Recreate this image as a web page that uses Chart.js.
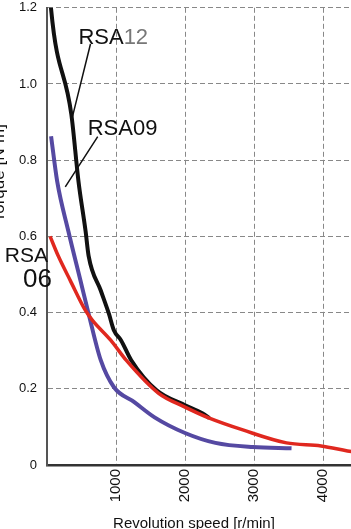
<!DOCTYPE html>
<html>
<head>
<meta charset="utf-8">
<script src="https://cdn.jsdelivr.net/npm/chart.js@4/dist/chart.umd.min.js"></script>
<style>
  html, body { margin: 0; padding: 0; background: #fff; overflow: hidden; }
  #wrap { position: relative; width: 392px; height: 529px; overflow: hidden; }
  #myChart { position: absolute; left: 0; top: -10px; }
</style>
</head>
<body>
<div id="wrap"><canvas id="myChart" width="392" height="539"></canvas></div>
<script>
'use strict';

// Data
let rsa12Speed = [40, 59, 353, 456, 559, 603, 779, 897, 971, 1074, 1221, 1588, 2000, 2250, 2353];
let rsa12Torque = [1.25, 1.197, 0.92, 0.745, 0.614, 0.549, 0.458, 0.397, 0.353, 0.327, 0.275, 0.196, 0.157, 0.136, 0.123];

let rsa09Speed = [59, 147, 309, 485, 603, 779, 971, 1265, 1559, 2000, 2441, 2985, 3544];
let rsa09Torque = [0.863, 0.745, 0.614, 0.484, 0.397, 0.275, 0.204, 0.165, 0.125, 0.084, 0.058, 0.047, 0.044];

let rsa06Speed = [45, 162, 338, 559, 662, 926, 1147, 1618, 2000, 2353, 2838, 3471, 3971, 4456, 4700];
let rsa06Torque = [0.6, 0.549, 0.484, 0.405, 0.379, 0.327, 0.275, 0.188, 0.152, 0.123, 0.092, 0.058, 0.05, 0.034, 0.03];

let speedTicks = [1000, 2000, 3000, 4000];
let torqueTicks = [0, 0.2, 0.4, 0.6, 0.8, 1.0, 1.2];

function toPoints(xs, ys) {
  let pts = [];
  for (let i = 0; i < xs.length; i++) {
    pts.push({ x: xs[i], y: ys[i] });
  }
  return pts;
}

// labels with leader lines, placed in data units
let labelPlugin = {
  id: 'labels',
  afterDatasetsDraw(chart) {
    let ctx = chart.ctx;
    let xs = chart.scales.x;
    let ys = chart.scales.y;
    let px = v => xs.getPixelForValue(v);
    let py = v => ys.getPixelForValue(v);
    ctx.save();

    // leader lines
    ctx.strokeStyle = '#111';
    ctx.lineWidth = 1.5;
    ctx.beginPath();
    ctx.moveTo(px(630), py(1.105));
    ctx.lineTo(px(370), py(0.915));
    ctx.moveTo(px(735), py(0.862));
    ctx.lineTo(px(265), py(0.73));
    ctx.stroke();

    ctx.font = '22px "Liberation Sans", Arial, sans-serif';
    ctx.textBaseline = 'alphabetic';
    ctx.textAlign = 'left';
    ctx.fillStyle = '#111';
    let x12 = px(455);
    let y12 = py(1.105);
    ctx.fillText('RSA', x12, y12);
    ctx.fillStyle = '#777';
    ctx.fillText('12', x12 + ctx.measureText('RSA').width, y12);

    ctx.fillStyle = '#111';
    ctx.fillText('RSA09', px(590), py(0.865));

    // RSA 06 on two lines, left of the axis
    ctx.textAlign = 'right';
    ctx.font = '21px "Liberation Sans Narrow", "Liberation Sans", Arial, sans-serif';
    ctx.fillText('RSA', xs.left + 1, py(0.532));
    ctx.font = '26px "Liberation Sans Narrow", "Liberation Sans", Arial, sans-serif';
    ctx.fillText('06', xs.left + 5, py(0.468));

    // axis titles
    ctx.font = '15px "Liberation Sans", Arial, sans-serif';
    ctx.textAlign = 'center';
    ctx.textBaseline = 'alphabetic';
    ctx.fillText('Revolution speed [r/min]', px(2130), 538);

    ctx.font = '17px "Liberation Sans", Arial, sans-serif';
    ctx.translate(8, py(0.766));
    ctx.rotate(-Math.PI / 2);
    ctx.textBaseline = 'bottom';
    ctx.fillText('Torque [N\u00b7m]', 0, 0);
    ctx.restore();
  }
};

let ctx = document.getElementById('myChart');
let myChart = new Chart(ctx, {
  type: 'line',
  data: {
    datasets: [{
      label: 'RSA06',
      data: toPoints(rsa06Speed, rsa06Torque),
      borderColor: '#e0281f',
      borderWidth: 3.5,
      pointRadius: 0,
      cubicInterpolationMode: 'monotone'
    }, {
      label: 'RSA12',
      data: toPoints(rsa12Speed, rsa12Torque),
      borderColor: '#111111',
      borderWidth: 4,
      pointRadius: 0,
      cubicInterpolationMode: 'monotone'
    }, {
      label: 'RSA09',
      data: toPoints(rsa09Speed, rsa09Torque),
      borderColor: '#5549a2',
      borderWidth: 4,
      pointRadius: 0,
      cubicInterpolationMode: 'monotone'
    }]
  },
  options: {
    responsive: false,
    animation: false,
    layout: { padding: { top: 6, right: 0, bottom: 0, left: 0 } },
    plugins: {
      legend: { display: false },
      tooltip: { enabled: false }
    },
    scales: {
      x: {
        type: 'linear',
        min: 0,
        max: 5000,
        afterBuildTicks: function (axis) {
          axis.ticks = speedTicks.map(v => ({ value: v }));
        },
        afterFit: function (axis) {
          axis.height = 64;
        },
        ticks: {
          minRotation: 90,
          maxRotation: 90,
          padding: 4,
          color: '#111',
          font: { family: '"Liberation Sans", Arial, sans-serif', size: 15 },
          callback: function (v) {
            return String(v);
          }
        },
        grid: { color: '#888', lineWidth: 1, drawTicks: false },
        border: { display: true, color: '#333', width: 2.5, dash: [5, 3] }
      },
      y: {
        min: 0,
        max: 1.2,
        afterBuildTicks: function (axis) {
          axis.ticks = torqueTicks.map(v => ({ value: v }));
        },
        afterFit: function (axis) {
          axis.width = 47;
        },
        ticks: {
          padding: 10,
          color: '#111',
          font: { family: '"Liberation Sans", Arial, sans-serif', size: 13 },
          callback: function (v) {
            return v === 0 ? '0' : v.toFixed(1);
          }
        },
        grid: { color: '#888', lineWidth: 1, drawTicks: false },
        border: { display: true, color: '#555', width: 2, dash: [5, 3] }
      }
    }
  },
  plugins: [labelPlugin]
});
</script>
</body>
</html>
